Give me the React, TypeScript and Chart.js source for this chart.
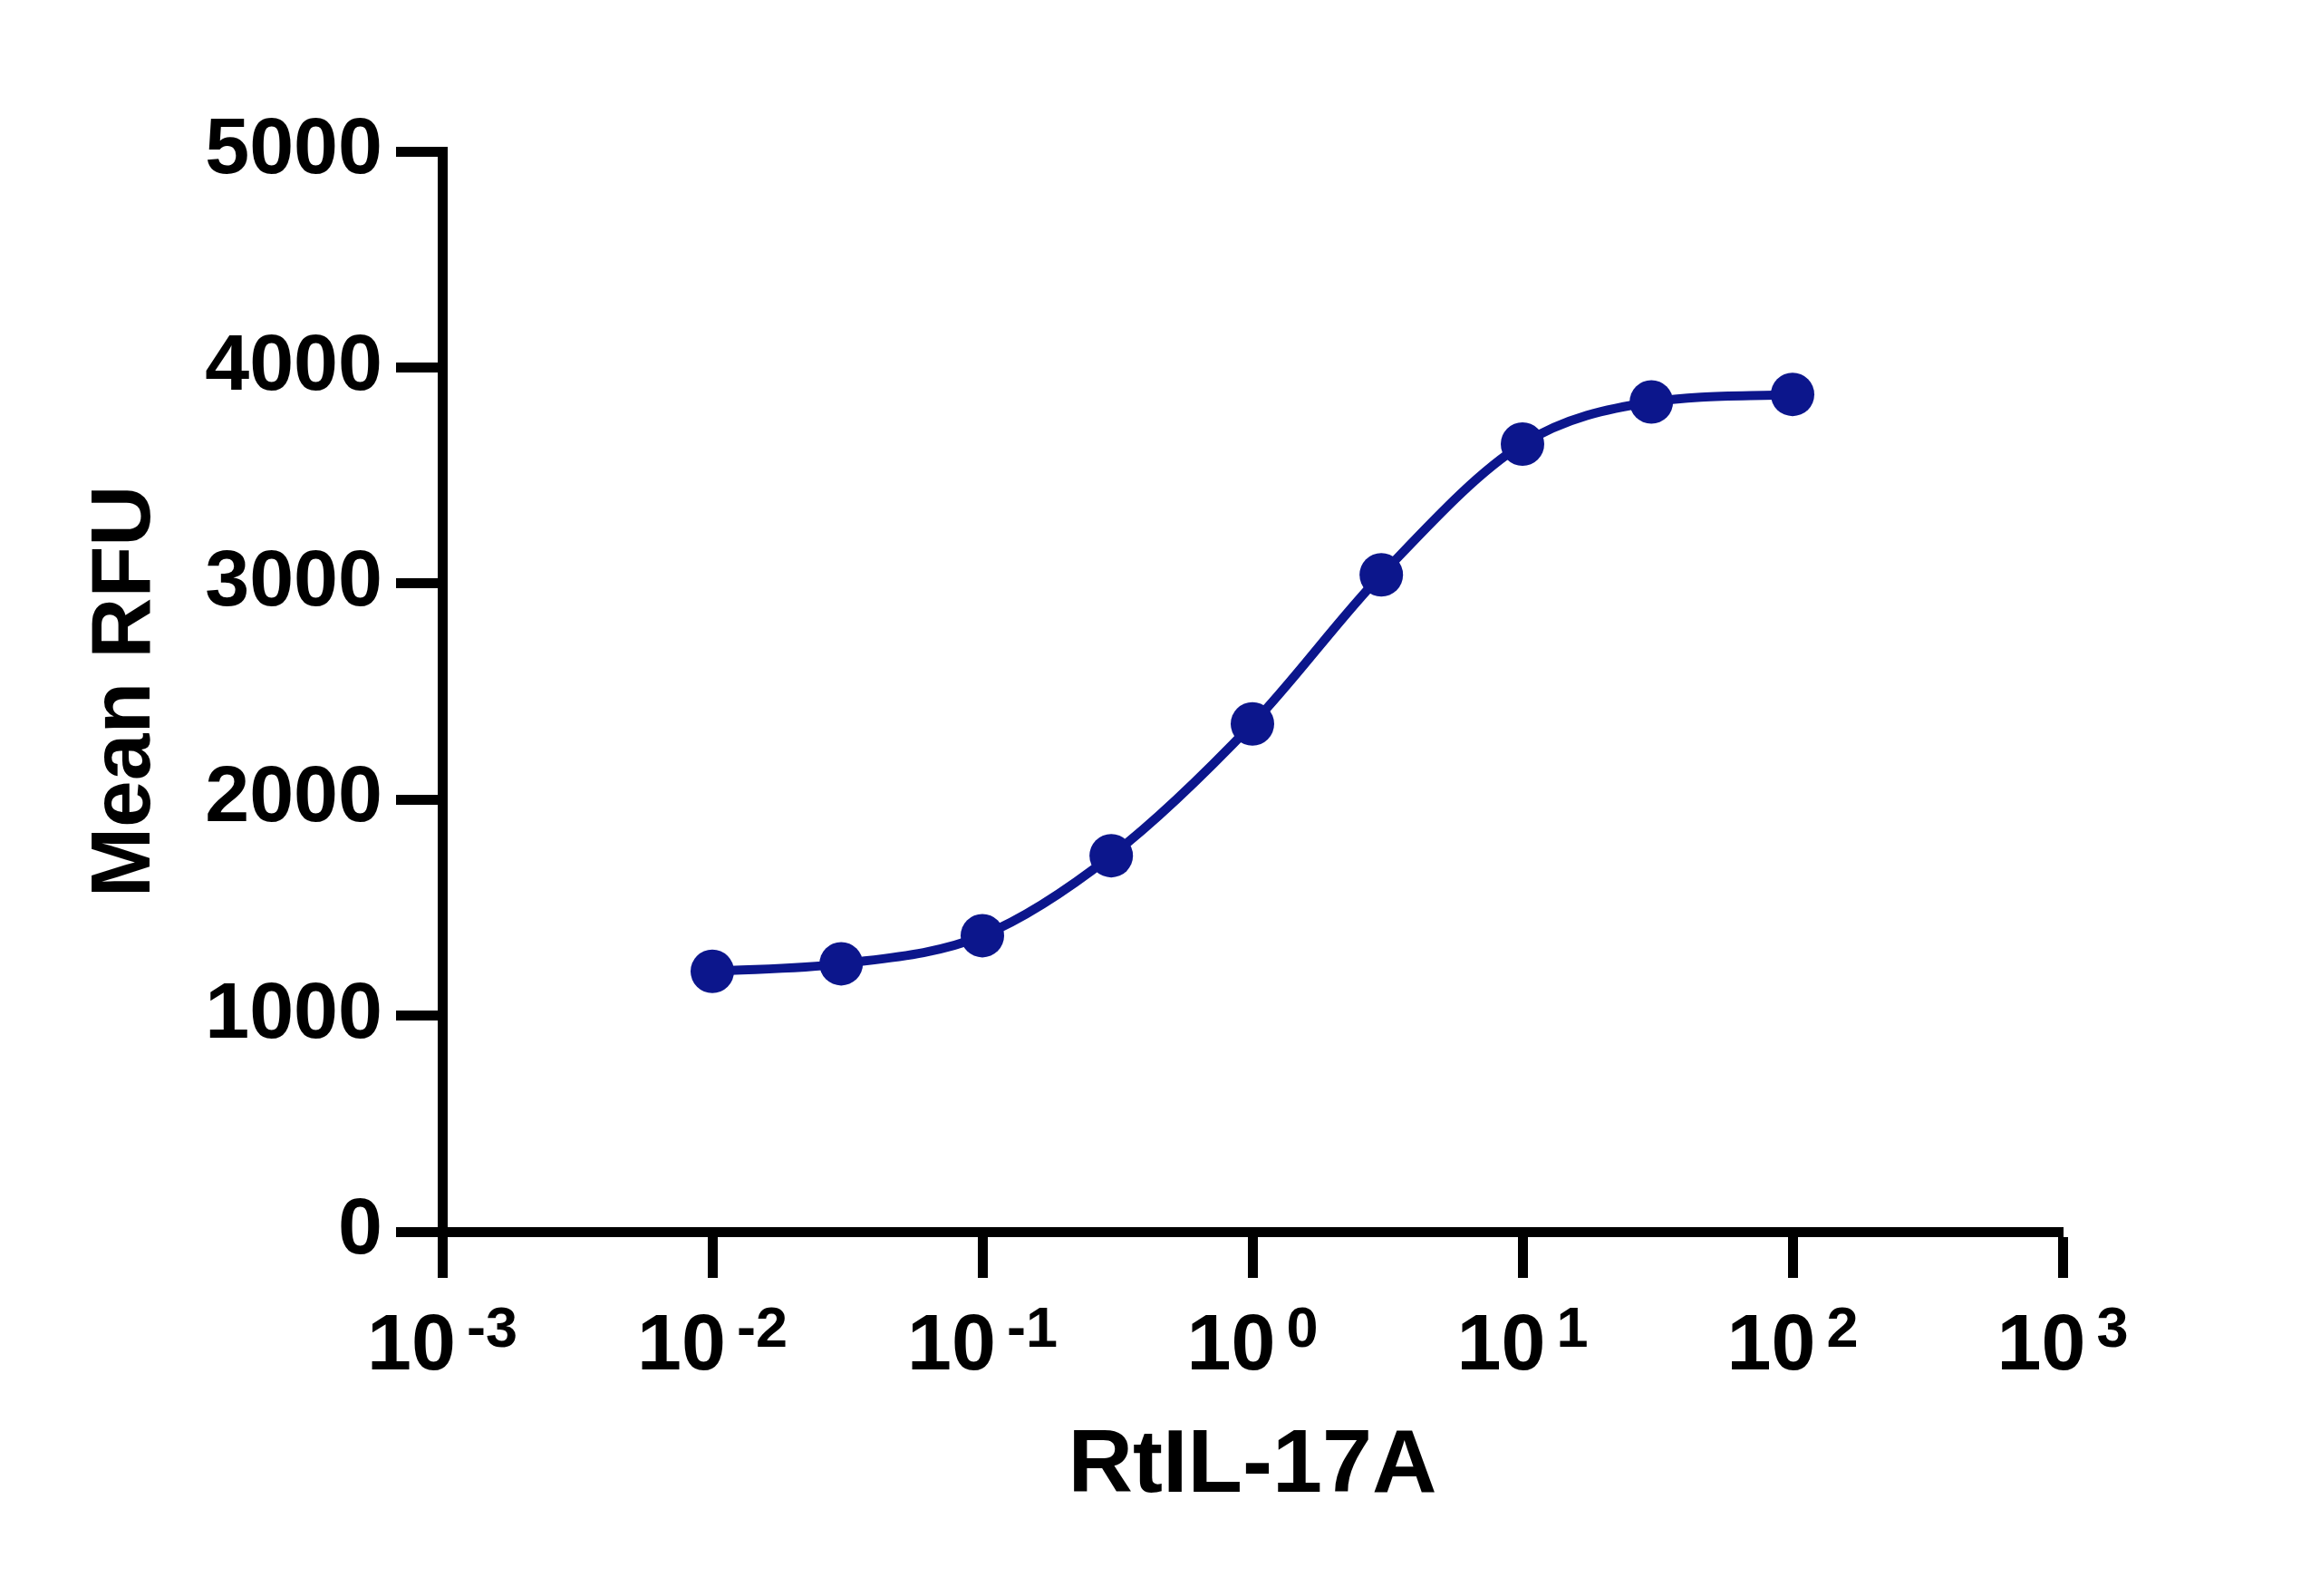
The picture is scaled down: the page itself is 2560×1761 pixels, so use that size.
import React, { useEffect, useRef } from 'react';
import { Chart, registerables } from 'chart.js';

Chart.register(...registerables);

// ---- data ----
const concentrations = [0.01, 0.03, 0.1, 0.3, 1, 3, 10, 30, 100];
const meanRFU = [1205, 1240, 1370, 1740, 2350, 3040, 3645, 3840, 3875];
const xTickExponents = [-3, -2, -1, 0, 1, 2, 3];
const yTickValues = [0, 1000, 2000, 3000, 4000, 5000];
const xTitle = 'RtIL-17A';
const yTitle = 'Mean RFU';

// ---- style ----
const W = 2560;
const H = 1761;
const FONT = '"Liberation Sans", Arial, Helvetica, sans-serif';
const NAVY = 'rgb(12, 22, 140)';
const AXIS_W = 11;
const TICK_LEN = 51;

const superscriptTicks = {
  id: 'superscriptTicks',
  afterDraw(chart: any) {
    const scale = chart.scales.x;
    const ctx = chart.ctx as CanvasRenderingContext2D;
    ctx.save();
    ctx.fillStyle = '#000';
    ctx.textBaseline = 'alphabetic';
    ctx.textAlign = 'left';
    const baseFont = `bold 88px ${FONT}`;
    const expFont = `bold 63px ${FONT}`;
    const gap = 12;
    const baseY = scale.top + 152;
    const expY = scale.top + 127;
    xTickExponents.forEach((e) => {
      const px = scale.getPixelForValue(Math.pow(10, e));
      const base = '10';
      const exp = e < 0 ? '-' + Math.abs(e) : String(e);
      ctx.font = baseFont;
      const wb = ctx.measureText(base).width;
      ctx.font = expFont;
      const we = ctx.measureText(exp).width;
      const total = wb + gap + we;
      const left = px - total / 2;
      ctx.font = baseFont;
      ctx.fillText(base, left, baseY);
      ctx.font = expFont;
      ctx.fillText(exp, left + wb + gap, expY);
    });
    ctx.restore();
  },
};

export default function App() {
  const ref = useRef<HTMLCanvasElement | null>(null);

  useEffect(() => {
    document.body.style.margin = '0';
    const canvas = ref.current;
    if (!canvas) return;
    const chart = new Chart(canvas, {
      type: 'line',
      data: {
        datasets: [
          {
            label: 'Mean RFU',
            data: concentrations.map((c, i) => ({ x: c, y: meanRFU[i] })),
            borderColor: NAVY,
            backgroundColor: NAVY,
            borderWidth: 10,
            pointRadius: 24,
            pointHoverRadius: 24,
            pointBackgroundColor: NAVY,
            pointBorderColor: NAVY,
            pointBorderWidth: 0,
            cubicInterpolationMode: 'monotone',
            fill: false,
            clip: false as any,
          },
        ],
      },
      options: {
        animation: false,
        responsive: false,
        devicePixelRatio: 1,
        layout: { padding: { top: 167, right: W - 2276, bottom: 0, left: 0 } },
        plugins: {
          legend: { display: false },
          tooltip: { enabled: false },
          title: { display: false },
        },
        scales: {
          x: {
            type: 'logarithmic',
            position: 'bottom',
            min: 1e-3,
            max: 1e3,
            afterBuildTicks: (axis: any) => {
              axis.ticks = xTickExponents.map((e) => ({ value: Math.pow(10, e), major: true }));
            },
            afterFit: (axis: any) => {
              axis.height = H - 1359;
            },
            ticks: {
              callback: () => '',
              autoSkip: false,
              maxRotation: 0,
              minRotation: 0,
            },
            grid: {
              drawOnChartArea: false,
              drawTicks: true,
              tickLength: TICK_LEN,
              tickWidth: AXIS_W,
              tickColor: '#000',
            },
            border: { display: true, color: '#000', width: AXIS_W },
            title: {
              display: true,
              text: xTitle,
              color: '#000',
              font: { family: FONT, size: 99, weight: 'bold', lineHeight: 1 },
              padding: { top: 0, bottom: 93 },
            },
          },
          y: {
            type: 'linear',
            position: 'left',
            min: 0,
            max: 5000,
            afterBuildTicks: (axis: any) => {
              axis.ticks = yTickValues.map((v) => ({ value: v }));
            },
            afterFit: (axis: any) => {
              axis.width = 488;
            },
            ticks: {
              callback: (v: any) => String(v),
              color: '#000',
              padding: 15,
              font: { family: FONT, size: 88, weight: 'bold' },
            },
            grid: {
              drawOnChartArea: false,
              drawTicks: true,
              tickLength: TICK_LEN,
              tickWidth: AXIS_W,
              tickColor: '#000',
            },
            border: { display: true, color: '#000', width: AXIS_W },
            title: {
              display: true,
              text: yTitle,
              color: '#000',
              font: { family: FONT, size: 93, weight: 'bold', lineHeight: 1 },
              padding: { top: 93, bottom: 0 },
            },
          },
        },
      },
      plugins: [superscriptTicks],
    } as any);
    return () => chart.destroy();
  }, []);

  return (
    <div style={{ width: W, height: H, background: '#fff' }}>
      <canvas ref={ref} width={W} height={H} style={{ display: 'block', width: W, height: H }} />
    </div>
  );
}
